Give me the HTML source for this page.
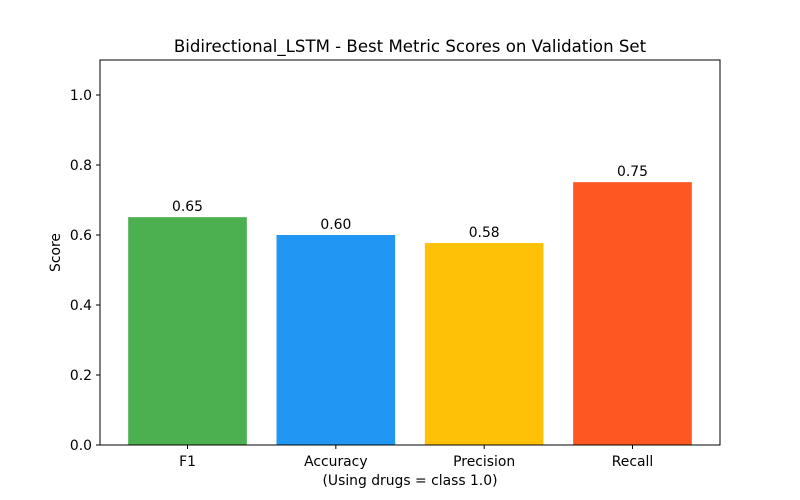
<!DOCTYPE html>
<html><head><meta charset="utf-8"><style>
body{margin:0;background:#fff;}
svg{display:block;font-family:"DejaVu Sans","Liberation Sans",sans-serif;}
</style></head><body>
<svg id="chart" width="800" height="500" viewBox="0 0 800 500">
<rect width="800" height="500" fill="#fff"/>
<text x="410" y="52" text-anchor="middle" font-size="16.6" fill="#000">Bidirectional_LSTM - Best Metric Scores on Validation Set</text>
<g id="bars"></g>
<g id="yticks"></g>
<g id="xticks"></g>
<rect x="100" y="60" width="620" height="385" fill="none" stroke="#000" stroke-width="1"/>
<text x="60" y="252.5" text-anchor="middle" font-size="13.9" transform="rotate(-90 60 252.5)">Score</text>
<text x="410" y="485" text-anchor="middle" font-size="13.9">(Using drugs = class 1.0)</text>
</svg>
<script>
const categories = ["F1","Accuracy","Precision","Recall"];
const values = [0.651, 0.600, 0.577, 0.751];
const colors = ["#4CAF50","#2196F3","#FFC107","#FF5722"];
const yTicks = [0.0,0.2,0.4,0.6,0.8,1.0];
const NS="http://www.w3.org/2000/svg";
const L=100,R=720,T=60,B=445;
const xmin=-0.59,xmax=3.59,ymin=0,ymax=1.1;
const xs=v=>L+(v-xmin)/(xmax-xmin)*(R-L);
const ys=v=>B-(v-ymin)/(ymax-ymin)*(B-T);
function mk(t,a,p){const e=document.createElementNS(NS,t);for(const k in a)e.setAttribute(k,a[k]);p.appendChild(e);return e;}
const gb=document.getElementById('bars'),gx=document.getElementById('xticks'),gy=document.getElementById('yticks');
categories.forEach((c,i)=>{
  const x0=xs(i-0.4),x1=xs(i+0.4);
  const r=mk('rect',{x:x0,y:ys(values[i]),width:x1-x0,height:ys(0)-ys(values[i]),fill:colors[i]},gb);
  
  
  const t=mk('text',{x:xs(i),y:ys(values[i])-6,'text-anchor':'middle','font-size':13.9},gb);
  t.textContent=values[i].toFixed(2);
  
  
  const tk=mk('line',{x1:xs(i),x2:xs(i),y1:B,y2:B+4,stroke:'#000'},gx);
  
  
  const lb=mk('text',{x:xs(i),y:B+21,'text-anchor':'middle','font-size':13.9},gx);
  lb.textContent=c;
  
  
});
yTicks.forEach(v=>{
  const tk=mk('line',{x1:L-4,x2:L,y1:ys(v),y2:ys(v),stroke:'#000'},gy);
  
  
  const lb=mk('text',{x:L-8,y:ys(v)+5,'text-anchor':'end','font-size':13.9},gy);
  lb.textContent=v.toFixed(1);
  
  
});
</script>
</body></html>
